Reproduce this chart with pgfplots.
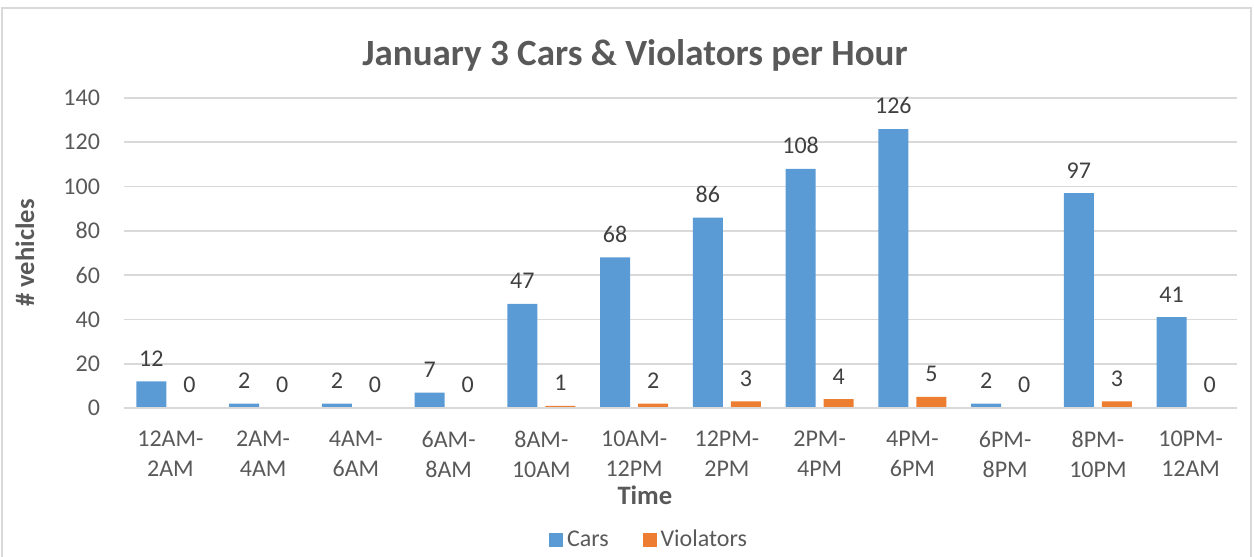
\documentclass[border=0pt]{standalone}
\usepackage{pgfplots}
\pgfplotsset{compat=1.18}
\usepackage{fontspec}
\setmainfont{Carlito}
\definecolor{carsblue}{HTML}{5B9BD5}
\definecolor{violorange}{HTML}{ED7D31}
\definecolor{gridgray}{HTML}{D9D9D9}
\definecolor{ticktext}{HTML}{595959}
\definecolor{labeltext}{HTML}{404040}

\begin{document}
\begin{tikzpicture}
\useasboundingbox (-62pt,-74.5pt) rectangle (565pt,204pt);
\draw[gridgray, line width=0.8pt] (-61pt,-80pt) rectangle (563.5pt,200pt);
\begin{axis}[
  at={(0pt,0pt)}, anchor=south west,
  scale only axis,
  width=556.5pt, height=155pt,
  xmin=-0.5, xmax=11.5,
  ymin=0, ymax=140,
  ytick={0,20,...,140},
  xtick={0,...,11},
  xticklabels={12AM-\\2AM, 2AM-\\4AM, 4AM-\\6AM, 6AM-\\8AM, 8AM-\\10AM,
    10AM-\\12PM, 12PM-\\2PM, 2PM-\\4PM, 4PM-\\6PM, 6PM-\\8PM, 8PM-\\10PM, 10PM-\\12AM},
  /pgf/number format/assume math mode=true,
  axis lines*=left,
  axis line style={draw=none},
  major tick length=0pt,
  ymajorgrids,
  grid style={gridgray, line width=0.9pt},
  tick label style={font=\fontsize{12}{15}\selectfont, text=ticktext},
  xticklabel style={align=center, yshift=-8pt},
  yticklabel style={xshift=-8.5pt},
  xlabel={Time},
  xlabel style={at={(axis description cs:0.468,0)}, anchor=center, yshift=-43.5pt,
    font=\fontsize{13.3}{16}\selectfont\bfseries, text=ticktext},
  ylabel={\# vehicles},
  ylabel style={at={(axis description cs:-0.089,0.5)}, anchor=center, rotate=0,
    font=\fontsize{13.3}{16}\selectfont\bfseries, text=ticktext},
  ybar,
  bar width=15pt,
  nodes near coords,
  nodes near coords style={font=\fontsize{12}{14}\selectfont, text=labeltext,
    anchor=south, yshift=4pt},
  legend style={at={(axis description cs:0.4726,-0.4258)}, anchor=center,
    draw=none, fill=none, legend columns=2,
    font=\fontsize{12}{14}\selectfont, text=ticktext,
    /tikz/every even column/.append style={column sep=15pt}},
  legend image code/.code={\fill[#1] (-1.5pt,-3.5pt) rectangle (5.5pt,3.5pt);},
]
\addplot[fill=carsblue, draw=none, bar shift=-9.5pt] coordinates {
  (0,12)(1,2)(2,2)(3,7)(4,47)(5,68)(6,86)(7,108)(8,126)(9,2)(10,97)(11,41)
};
\addlegendentry{Cars}
\addplot[fill=violorange, draw=none, bar shift=9.5pt] coordinates {
  (0,0)(1,0)(2,0)(3,0)(4,1)(5,2)(6,3)(7,4)(8,5)(9,0)(10,3)(11,0)
};
\addlegendentry{Violators}
% baseline redrawn over the zero-height bars
\addplot[sharp plot, gridgray, line width=0.9pt, forget plot, nodes near coords={}, bar shift=0pt]
  coordinates {(-0.5,0) (11.5,0)};
\end{axis}
\node[font=\fontsize{18.5}{21}\selectfont\bfseries, text=ticktext] at (255.5pt,176.5pt)
  {January 3 Cars \& Violators per Hour};
\end{tikzpicture}
\end{document}
